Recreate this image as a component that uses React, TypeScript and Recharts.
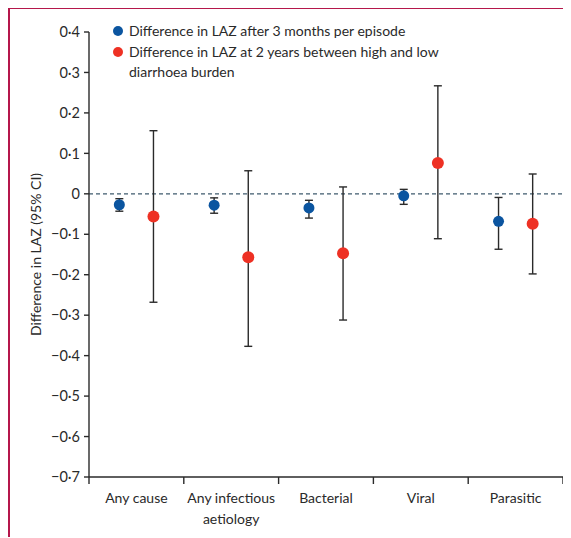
import React from 'react';
import {
  ComposedChart,
  Scatter,
  ErrorBar,
  XAxis,
  YAxis,
  ReferenceLine,
} from 'recharts';

const CATEGORIES = ['Any cause', 'Any infectious aetiology', 'Bacterial', 'Viral', 'Parasitic'];

// difference in LAZ after 3 months per episode
const PER_EPISODE = [-0.027, -0.028, -0.035, -0.005, -0.068];
const PER_EPISODE_LOW = [-0.043, -0.048, -0.06, -0.026, -0.137];
const PER_EPISODE_HIGH = [-0.012, -0.01, -0.016, 0.011, -0.009];

// difference in LAZ at 2 years, high vs low burden
const BURDEN = [-0.056, -0.157, -0.147, 0.076, -0.074];
const BURDEN_LOW = [-0.268, -0.377, -0.312, -0.111, -0.198];
const BURDEN_HIGH = [0.156, 0.057, 0.017, 0.267, 0.049];

const Y_TICKS = [0.4, 0.3, 0.2, 0.1, 0, -0.1, -0.2, -0.3, -0.4, -0.5, -0.6, -0.7];
// band edges get a tick mark, band centres get the category name
const X_TICKS = [0, 0.5, 1, 1.5, 2, 2.5, 3, 3.5, 4, 4.5, 5];

const BLUE = '#0b55a0';
const RED = '#ee3124';
const INK = '#2a2a2a';
const FONT = 'Lato, "Noto Sans", sans-serif';
const SHIFT = 0.18;

const build = (est: number[], lo: number[], hi: number[], dx: number) =>
  est.map((v, i) => ({ x: i + 0.5 + dx, y: v, err: [v - lo[i], hi[i] - v] }));

const perEpisodeData = build(PER_EPISODE, PER_EPISODE_LOW, PER_EPISODE_HIGH, -SHIFT);
const burdenData = build(BURDEN, BURDEN_LOW, BURDEN_HIGH, SHIFT);

const fmtY = (v: number) => {
  if (v === 0) return '0';
  const s = Math.abs(v).toFixed(1).replace('.', '·');
  return v < 0 ? '\u2212' + s : s;
};

const CatTick = ({ x, y, payload }: any) => {
  const v = payload.value;
  if (Number.isInteger(v)) {
    return <line x1={x} y1={y} x2={x} y2={y + 7} stroke={INK} strokeWidth={1.4} />;
  }
  const name = CATEGORIES[Math.floor(v)] || '';
  const lines = name === 'Any infectious aetiology' ? ['Any infectious', 'aetiology'] : [name];
  return (
    <text x={x} y={y} textAnchor="middle" fill={INK} fontSize={14} fontFamily={FONT}>
      {lines.map((l, i) => (
        <tspan key={i} x={x} dy={i === 0 ? 26 : 21}>{l}</tspan>
      ))}
    </text>
  );
};

const Dot = (color: string, r: number) => (p: any) =>
  <circle cx={p.cx} cy={p.cy} r={r} fill={color} />;

const YLabel = ({ viewBox }: any) => {
  const cx = viewBox.x + 13;
  const cy = viewBox.y + viewBox.height / 2;
  return (
    <text x={cx} y={cy} transform={`rotate(-90 ${cx} ${cy})`} textAnchor="middle"
      dominantBaseline="middle" fill={INK} fontSize={14} fontFamily={FONT}>
      Difference in LAZ (95% CI)
    </text>
  );
};

const LegendRow = ({ color, lines }: { color: string; lines: string[] }) => (
  <div style={{ display: 'flex', alignItems: 'flex-start' }}>
    <span style={{ width: 10, height: 10, borderRadius: 5, background: color, marginTop: 5, marginRight: 6, flex: 'none' }} />
    <div>
      {lines.map((l, i) => <div key={i}>{l}</div>)}
    </div>
  </div>
);

export default function App() {
  return (
    <div style={{ position: 'relative', width: 561, height: 528, borderTop: '2px solid #b5174b', borderLeft: '2px solid #b5174b', marginTop: -1 }}>
      <ComposedChart width={561} height={528} margin={{ top: 23, right: 8, left: 14, bottom: 4 }}>
        <YAxis
          type="number"
          dataKey="y"
          domain={[-0.7, 0.4]}
          ticks={Y_TICKS}
          interval={0}
          tickFormatter={fmtY}
          width={65}
          tickSize={5}
          tickMargin={4}
          stroke={INK}
          strokeWidth={1.4}
          tick={{ fill: INK, fontSize: 14.5, fontFamily: FONT }}
          label={<YLabel />}
        />
        <XAxis
          type="number"
          dataKey="x"
          domain={[0, 5]}
          ticks={X_TICKS}
          interval={0}
          tickLine={false}
          tickSize={0}
          tickMargin={0}
          height={56}
          tick={<CatTick />}
          stroke={INK}
          strokeWidth={1.4}
        />
        <ReferenceLine y={0} stroke="#3f5b6e" strokeDasharray="4 3" strokeWidth={1.2} />
        <Scatter data={perEpisodeData} shape={Dot(BLUE, 5.5)} isAnimationActive={false}>
          <ErrorBar dataKey="err" direction="y" width={4} stroke={INK} strokeWidth={1.4} />
        </Scatter>
        <Scatter data={burdenData} shape={Dot(RED, 6)} isAnimationActive={false}>
          <ErrorBar dataKey="err" direction="y" width={4} stroke={INK} strokeWidth={1.4} />
        </Scatter>
      </ComposedChart>
      <div style={{ position: 'absolute', left: 103, top: 12, fontFamily: FONT, fontSize: 14, lineHeight: '20.5px', color: INK }}>
        <LegendRow color={BLUE} lines={['Difference in LAZ after 3 months per episode']} />
        <LegendRow color={RED} lines={['Difference in LAZ at 2 years between high and low', 'diarrhoea burden']} />
      </div>
    </div>
  );
}
